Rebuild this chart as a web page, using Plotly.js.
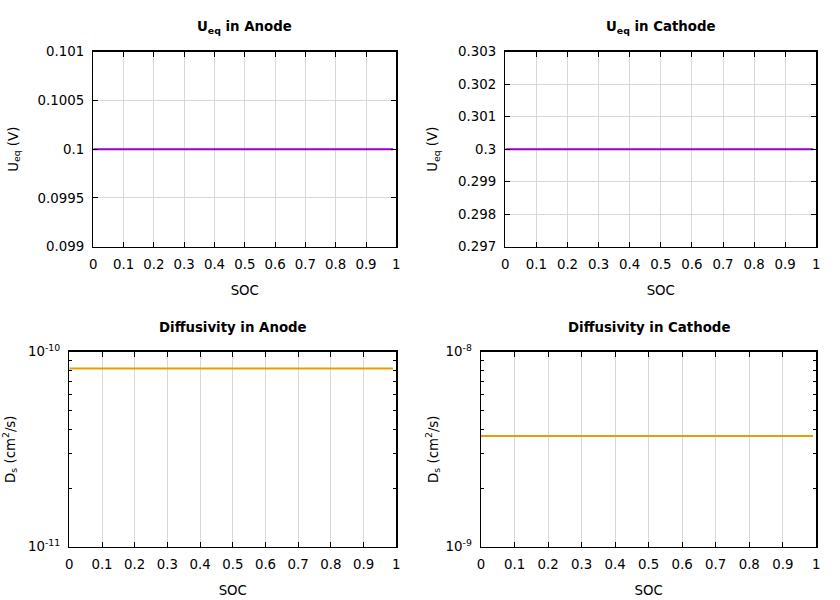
<!DOCTYPE html>
<html>
<head>
<meta charset="utf-8">
<script src="https://cdn.plot.ly/plotly-3.0.1.min.js"></script>
<style>
html,body{margin:0;padding:0;background:#fff;}
#chart{width:840px;height:600px;}
</style>
</head>
<body>
<div id="chart"></div>
<script>
// ---- data ----
const soc = [0, 0.1, 0.2, 0.3, 0.4, 0.5, 0.6, 0.7, 0.8, 0.9, 0.99];
const ueqAnode   = [0.1, 0.1, 0.1, 0.1, 0.1, 0.1, 0.1, 0.1, 0.1, 0.1, 0.1];
const ueqCathode = [0.3, 0.3, 0.3, 0.3, 0.3, 0.3, 0.3, 0.3, 0.3, 0.3, 0.3];
const dsAnode    = [8.2e-11, 8.2e-11, 8.2e-11, 8.2e-11, 8.2e-11, 8.2e-11, 8.2e-11, 8.2e-11, 8.2e-11, 8.2e-11, 8.2e-11];
const dsCathode  = [3.7e-9, 3.7e-9, 3.7e-9, 3.7e-9, 3.7e-9, 3.7e-9, 3.7e-9, 3.7e-9, 3.7e-9, 3.7e-9, 3.7e-9];

const xTickVals = [0, 0.1, 0.2, 0.3, 0.4, 0.5, 0.6, 0.7, 0.8, 0.9, 1];
const xTickText = ["0", "0.1", "0.2", "0.3", "0.4", "0.5", "0.6", "0.7", "0.8", "0.9", "1"];
const anodeUTickVals = [0.099, 0.0995, 0.1, 0.1005, 0.101];
const anodeUTickText = ["0.099", "0.0995", "0.1", "0.1005", "0.101"];
const cathUTickVals = [0.297, 0.298, 0.299, 0.3, 0.301, 0.302, 0.303];
const cathUTickText = ["0.297", "0.298", "0.299", "0.3", "0.301", "0.302", "0.303"];
const anodeDTickVals = [1e-11, 1e-10];
const anodeDTickText = ["10<sup>-11</sup>", "10<sup>-10</sup>"];
const cathDTickVals = [1e-9, 1e-8];
const cathDTickText = ["10<sup>-9</sup>", "10<sup>-8</sup>"];

const titles = ["<b>U<sub>eq</sub> in Anode</b>", "<b>U<sub>eq</sub> in Cathode</b>",
                "<b>Diffusivity in Anode</b>", "<b>Diffusivity in Cathode</b>"];

// ---- styling ----
const FONT = "DejaVu Sans, sans-serif";
const FS = 13.33;
const purple = "#9400d3";
const orange = "#e69f00";

function common() {
  return {
    ticks: "inside", ticklen: 5, tickwidth: 1, tickcolor: "#000",
    showline: true, linecolor: "#000", linewidth: 1.5, mirror: "ticks",
    zeroline: false, ticklabelstandoff: 5,
    tickfont: {family: FONT, size: FS, color: "#000"},
    fixedrange: true
  };
}
function xax(domain, anchor) {
  return Object.assign(common(), {
    domain: domain, anchor: anchor, range: [0, 1],
    tickvals: xTickVals, ticktext: xTickText,
    showgrid: true, gridcolor: "#d9d9d9", gridwidth: 1,
    title: {text: "SOC", font: {family: FONT, size: FS, color: "#000"}, standoff: 14}
  });
}
function yaxLin(domain, anchor, vals, text, range, standoff) {
  return Object.assign(common(), {
    domain: domain, anchor: anchor, range: range,
    tickvals: vals, ticktext: text,
    showgrid: true, gridcolor: "#d9d9d9", gridwidth: 1,
    title: {text: "U<sub>eq</sub> (V)", font: {family: FONT, size: FS, color: "#000"}, standoff: standoff}
  });
}
function yaxLog(domain, anchor, vals, text, range, standoff) {
  return Object.assign(common(), {
    domain: domain, anchor: anchor, type: "log", range: range,
    tickvals: vals, ticktext: text,
    minor: {ticks: "inside", ticklen: 3, tickwidth: 1, tickcolor: "#000", dtick: "D1", showgrid: false},
    showgrid: false,
    title: {text: "D<sub>s</sub> (cm<sup>2</sup>/s)", font: {family: FONT, size: FS, color: "#000"}, standoff: standoff}
  });
}

const W = 840, H = 600;
const dTLx = [93.3 / W, 396.3 / W];
const dTRx = [505.3 / W, 816.3 / W];
const dBLx = [69.3 / W, 396.3 / W];
const dBRx = [481 / W, 816.3 / W];
const dTy = [1 - 246.7 / H, 1 - 51.7 / H];
const dBy = [1 - 546.7 / H, 1 - 351.7 / H];

const traces = [
  {x: soc, y: ueqAnode, xaxis: "x", yaxis: "y", mode: "lines", line: {color: purple, width: 2}, showlegend: false, hoverinfo: "x+y"},
  {x: soc, y: ueqCathode, xaxis: "x2", yaxis: "y2", mode: "lines", line: {color: purple, width: 2}, showlegend: false, hoverinfo: "x+y"},
  {x: soc, y: dsAnode, xaxis: "x3", yaxis: "y3", mode: "lines", line: {color: orange, width: 2}, showlegend: false, hoverinfo: "x+y"},
  {x: soc, y: dsCathode, xaxis: "x4", yaxis: "y4", mode: "lines", line: {color: orange, width: 2}, showlegend: false, hoverinfo: "x+y"}
];

const titleFont = {family: FONT, size: FS, color: "#000"};
const centers = [
  [(dTLx[0] + dTLx[1]) / 2, 1 - 27 / H],
  [(dTRx[0] + dTRx[1]) / 2, 1 - 27 / H],
  [(dBLx[0] + dBLx[1]) / 2, 1 - 327 / H],
  [(dBRx[0] + dBRx[1]) / 2, 1 - 327 / H]
];
const annotations = titles.map((t, i) => ({
  text: t, x: centers[i][0], y: centers[i][1], xref: "paper", yref: "paper",
  xanchor: "center", yanchor: "middle", showarrow: false, font: titleFont
}));

const layout = {
  width: W, height: H,
  margin: {l: 0, r: 0, t: 0, b: 0},
  paper_bgcolor: "#fff", plot_bgcolor: "#fff",
  showlegend: false,
  font: {family: FONT, size: FS, color: "#000"},
  xaxis: xax(dTLx, "y"),
  yaxis: yaxLin(dTy, "x", anodeUTickVals, anodeUTickText, [0.099, 0.101], 16),
  xaxis2: xax(dTRx, "y2"),
  yaxis2: yaxLin(dTy, "x2", cathUTickVals, cathUTickText, [0.297, 0.303], 17),
  xaxis3: xax(dBLx, "y3"),
  yaxis3: yaxLog(dBy, "x3", anodeDTickVals, anodeDTickText, [-11, -10], 14),
  xaxis4: xax(dBRx, "y4"),
  yaxis4: yaxLog(dBy, "x4", cathDTickVals, cathDTickText, [-9, -8], 4),
  annotations: annotations
};

Plotly.newPlot("chart", traces, layout, {displayModeBar: false, staticPlot: true});
</script>
</body>
</html>
